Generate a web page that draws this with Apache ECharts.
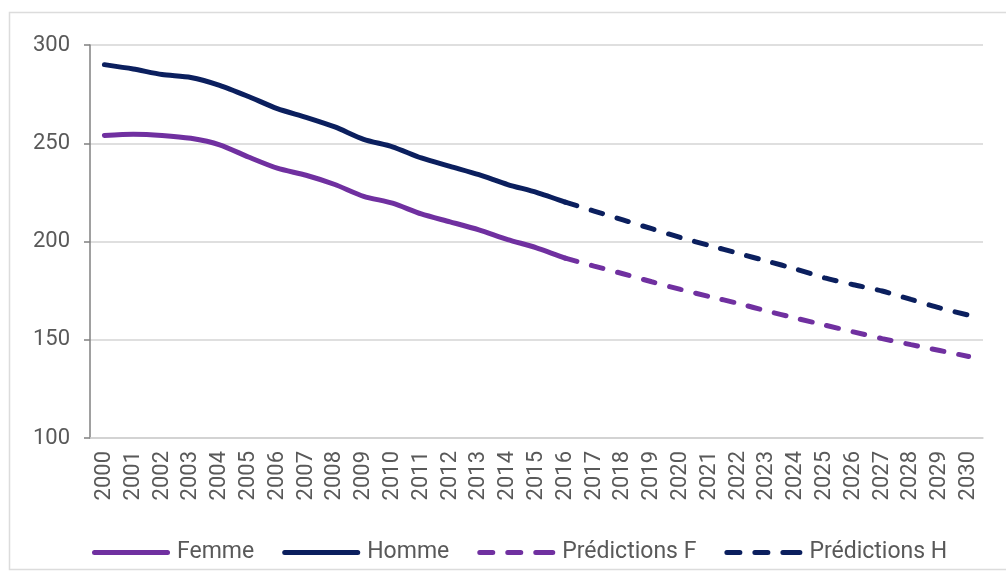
<!DOCTYPE html>
<html>
<head>
<meta charset="utf-8">
<script src="https://cdn.jsdelivr.net/npm/echarts@6/dist/echarts.min.js"></script>
<style>html,body{margin:0;padding:0;background:#fff}#c{width:1006px;height:582px}</style>
</head>
<body>
<div id="c"></div>
<script>
const years = ['2000','2001','2002','2003','2004','2005','2006','2007','2008','2009','2010','2011','2012','2013','2014','2015','2016','2017','2018','2019','2020','2021','2022','2023','2024','2025','2026','2027','2028','2029','2030'];
// observed 2000..2016
const femme = [254, 254.6, 254, 252.5, 249.2, 243, 237.3, 233.7, 229, 223, 219.5, 214, 210, 205.9, 201, 196.8, 191.5];
const homme = [290, 287.8, 285, 283.5, 279.5, 273.8, 267.6, 263.2, 258.3, 252, 248.2, 242.5, 238.2, 234, 229, 225, 220];
// predictions 2016..2030
const predF = [191.5, 187.5, 183.6, 179.5, 175.6, 172, 168.5, 164.6, 161, 157.5, 154, 150.6, 147.5, 144.5, 141.5];
const predH = [220, 215.5, 211, 206.5, 202, 198, 194, 190, 186, 181.5, 178, 174.8, 170.5, 166.2, 162.5];
const yTicks = [100, 150, 200, 250, 300];

const predStart = years.indexOf('2016');
const obsData = arr => years.map((y, i) => i < arr.length ? arr[i] : null);
const predData = arr => years.map((y, i) => i >= predStart ? arr[i - predStart] : null);

const cF = '#7030A0', cH = '#0B1F5E';
const font = 'Roboto';
const solidIcon = 'path://M2.5,0H75.5A2.5,2.5,0,0,1,75.5,5H2.5A2.5,2.5,0,0,1,2.5,0Z';
const dashIcon = 'path://M2.5,0H15.5A2.5,2.5,0,0,1,15.5,5H2.5A2.5,2.5,0,0,1,2.5,0Z M30.5,0H43.5A2.5,2.5,0,0,1,43.5,5H30.5A2.5,2.5,0,0,1,30.5,0Z M58.5,0H75.5A2.5,2.5,0,0,1,75.5,5H58.5A2.5,2.5,0,0,1,58.5,0Z';

const chart = echarts.init(document.getElementById('c'));
chart.setOption({
  animation: false,
  textStyle: {fontFamily: font},
  graphic: [{type: 'rect', shape: {x: 9.5, y: 12.5, width: 1010, height: 557}, style: {fill: 'none', stroke: '#dcdcdc', lineWidth: 1.5}, silent: true}],
  grid: {left: 90, right: 23, top: 45, bottom: 144},
  xAxis: {
    type: 'category', data: years, boundaryGap: true,
    axisLine: {lineStyle: {color: '#d0d0d0', width: 1.5}},
    axisTick: {show: false},
    axisLabel: {rotate: 90, interval: 0, fontSize: 22, color: '#595959', margin: 13, fontFamily: font}
  },
  yAxis: {
    type: 'value', min: yTicks[0], max: yTicks[yTicks.length - 1], interval: 50,
    axisLine: {show: true, lineStyle: {color: '#808080', width: 1.5}},
    axisTick: {show: true, length: 6, lineStyle: {color: '#808080', width: 1.5}},
    axisLabel: {fontSize: 22, color: '#595959', margin: 20, fontFamily: font},
    splitLine: {lineStyle: {color: '#d4d4d4', width: 1.5}}
  },
  legend: {
    left: 87, top: 536, itemWidth: 78, itemHeight: 5, itemGap: 28,
    textStyle: {fontSize: 23, color: '#595959', fontFamily: font, padding: [0, 0, 0, 2]},
    data: [
      {name: 'Femme', icon: solidIcon, itemStyle: {color: cF}},
      {name: 'Homme', icon: solidIcon, itemStyle: {color: cH}},
      {name: 'Prédictions F', icon: dashIcon, itemStyle: {color: cF}},
      {name: 'Prédictions H', icon: dashIcon, itemStyle: {color: cH}}
    ]
  },
  series: [
    {name: 'Femme', type: 'line', data: obsData(femme), symbol: 'none', smooth: 0.25, lineStyle: {color: cF, width: 5, cap: 'round'}, itemStyle: {color: cF}},
    {name: 'Homme', type: 'line', data: obsData(homme), symbol: 'none', smooth: 0.25, lineStyle: {color: cH, width: 5, cap: 'round'}, itemStyle: {color: cH}},
    {name: 'Prédictions F', type: 'line', data: predData(predF), symbol: 'none', smooth: 0.25, lineStyle: {color: cF, width: 5, type: [12, 15], cap: 'round'}, itemStyle: {color: cF}},
    {name: 'Prédictions H', type: 'line', data: predData(predH), symbol: 'none', smooth: 0.25, lineStyle: {color: cH, width: 5, type: [12, 15], cap: 'round'}, itemStyle: {color: cH}}
  ]
});
</script>
</body>
</html>
